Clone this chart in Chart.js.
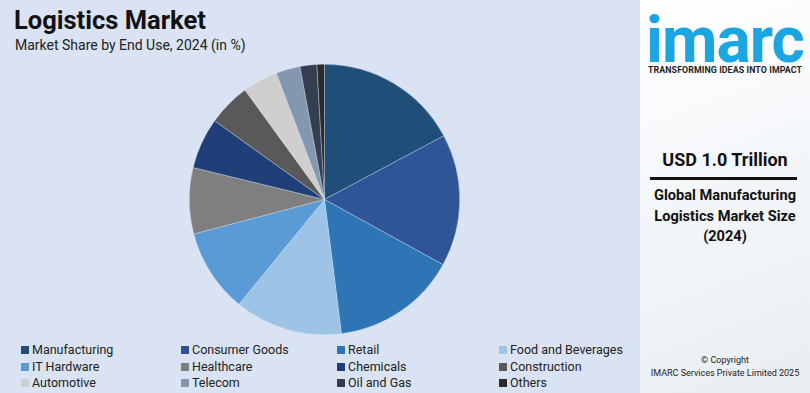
<!DOCTYPE html>
<html lang="en">
<head>
    <meta charset="UTF-8">
    <title>Logistics Market</title>
    <script src="https://cdn.jsdelivr.net/npm/chart.js"></script>
    <style>
        html, body { margin: 0; padding: 0; }
        body {
            width: 810px; height: 393px; position: relative; overflow: hidden;
            font-family: Roboto, "Open Sans", sans-serif;
            background: #dae3f3;
        }
        .title { position: absolute; left: 14px; top: 5px; font-size: 25.5px; font-weight: 700; color: #111; }
        .subtitle { position: absolute; left: 15px; top: 37px; font-size: 14px; color: #222; }
        .pie-wrap { position: absolute; left: 189px; top: 64px; width: 271px; height: 271px; }
        .legend {
            position: absolute; left: 21px; top: 342px; width: 620px;
            display: grid; grid-template-columns: 160px 156px 162px 140px;
            row-gap: 0px; font-size: 12.5px; color: #222;
        }
        .legend div { height: 16.5px; line-height: 16.5px; white-space: nowrap; }
        .legend span.box { display: inline-block; width: 8px; height: 8px; margin-right: 3px; vertical-align: 0px; }
        .side {
            position: absolute; left: 640px; top: 0; width: 170px; height: 393px;
            background: linear-gradient(160deg, #ffffff 0%, #f4f7fa 45%, #e9eef3 100%);
            text-align: center; color: #111;
        }
        .logo { position: absolute; left: 0; top: 9px; width: 170px; font-size: 64px; line-height: 1; font-weight: 700; color: #1ba6e1; letter-spacing: -1px; }
        .tag { position: absolute; left: 0; top: 65px; width: 170px; font-size: 8.8px; font-weight: 700; color: #222; letter-spacing: 0.1px; }
        .usd { position: absolute; left: 0; top: 149px; width: 170px; font-size: 18px; font-weight: 700; }
        .rule { position: absolute; left: 10px; top: 177px; width: 147px; height: 3px; background: #111; }
        .desc { position: absolute; left: 0; top: 185px; width: 170px; font-size: 14.6px; font-weight: 700; line-height: 20.5px; }
        .copy { position: absolute; left: 0; top: 354px; width: 170px; font-size: 9px; line-height: 13px; color: #222; }
    </style>
</head>
<body>
    <div class="title">Logistics Market</div>
    <div class="subtitle">Market Share by End Use, 2024 (in %)</div>
    <div class="pie-wrap"><canvas id="pieChart"></canvas></div>
    <div class="legend" id="legend"></div>

    <div class="side">
        <div class="logo">imarc</div>
        <div class="tag">TRANSFORMING IDEAS INTO IMPACT</div>
        <div class="usd">USD 1.0 Trillion</div>
        <div class="rule"></div>
        <div class="desc">Global Manufacturing<br>Logistics Market Size<br>(2024)</div>
        <div class="copy">© Copyright<br>IMARC Services Private Limited 2025</div>
    </div>

    <script>
    // end use categories and share (%)
    const categories = ['Manufacturing', 'Consumer Goods', 'Retail', 'Food and Beverages',
        'IT Hardware', 'Healthcare', 'Chemicals', 'Construction',
        'Automotive', 'Telecom', 'Oil and Gas', 'Others'];
    const shares = [17.2, 15.8, 15.0, 12.9, 10.0, 7.9, 6.1, 5.1, 4.2, 2.9, 2.0, 0.9];
    const colors = ['#1f4e79', '#2f5597', '#2e75b6', '#9dc3e6',
        '#5b9bd5', '#7f7f7f', '#203f78', '#595959',
        '#d0cece', '#8497b0', '#333f50', '#2b2b2b'];

    // legend (row by row, 4 columns)
    const legend = document.getElementById('legend');
    categories.forEach((name, i) => {
        const item = document.createElement('div');
        item.innerHTML = `<span class="box" style="background:${colors[i]}"></span>${name}`;
        legend.appendChild(item);
    });

    new Chart(document.getElementById('pieChart'), {
        type: 'pie',
        data: {
            labels: categories,
            datasets: [{
                data: shares,
                backgroundColor: colors,
                borderColor: 'rgba(218, 227, 243, 0.6)',
                borderWidth: 0.6
            }]
        },
        options: {
            responsive: true,
            maintainAspectRatio: false,
            animation: false,
            layout: { padding: 0 },
            plugins: {
                legend: { display: false },
                tooltip: { enabled: false }
            }
        }
    });
    </script>
</body>
</html>
